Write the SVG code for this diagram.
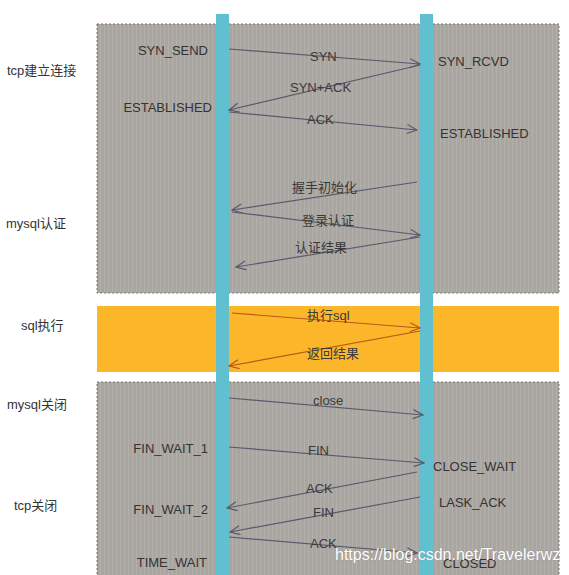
<svg xmlns="http://www.w3.org/2000/svg" width="569" height="575" viewBox="0 0 569 575">
<style>
.sec{font-family:"Liberation Sans",Arial,"Noto Sans CJK SC",sans-serif;font-size:13px;fill:#333}
.st{font-family:"Liberation Sans",Arial,sans-serif;font-size:13px;fill:#333}
.lb{font-family:"Liberation Sans",Arial,"Noto Sans CJK SC",sans-serif;font-size:13px;fill:#3a3a3a}
.gbox{fill:url(#stripe);stroke:#777;stroke-width:1;stroke-dasharray:2 2}
.life{fill:#60c0d0}
.ln{stroke:#585a6c;stroke-width:1.2;fill:none}
.lo{stroke:#b8581c;stroke-width:1.2;fill:none}
.wm{font-family:"Liberation Sans",Arial,sans-serif;font-size:16px;fill:#fff;stroke:#777;stroke-width:0.6;stroke-opacity:0.6;paint-order:stroke}
</style>
<defs>
<pattern id="stripe" width="4" height="4" patternUnits="userSpaceOnUse">
<rect width="4" height="4" fill="#a9a5a1"/>
<rect width="1" height="4" fill="#b3afab"/>
</pattern>
<marker id="ah" markerUnits="userSpaceOnUse" markerWidth="12" markerHeight="12" refX="11" refY="5" orient="auto">
<path d="M1,0.5 L11,5 L1,9.5" fill="none" stroke="#585a6c" stroke-width="1.2"/>
</marker>
<marker id="ao" markerUnits="userSpaceOnUse" markerWidth="12" markerHeight="12" refX="11" refY="5" orient="auto">
<path d="M1,0.5 L11,5 L1,9.5" fill="none" stroke="#b8581c" stroke-width="1.2"/>
</marker>
</defs>
<rect width="569" height="575" fill="#fff"/>
<g id="phase-tcp-connect">
<rect class="gbox" x="97" y="24" width="462" height="269"/>
</g>
<g id="phase-sql">
<rect x="97" y="306" width="462" height="66" fill="#fcb629"/>
</g>
<g id="phase-close">
<rect class="gbox" x="97" y="382" width="462" height="200"/>
</g>
<g id="client-lifeline"><rect class="life" x="216" y="14" width="13" height="570"/></g>
<g id="server-lifeline"><rect class="life" x="420" y="14" width="13" height="570"/></g>
<g id="section-labels">
<text class="sec" x="7" y="75">tcp建立连接</text>
<text class="sec" x="6" y="228">mysql认证</text>
<text class="sec" x="21" y="330">sql执行</text>
<text class="sec" x="7" y="409">mysql关闭</text>
<text class="sec" x="14" y="510">tcp关闭</text>
</g>
<g id="client-states" text-anchor="end">
<text class="st" x="208" y="55">SYN_SEND</text>
<text class="st" x="212" y="112">ESTABLISHED</text>
<text class="st" x="208" y="453">FIN_WAIT_1</text>
<text class="st" x="208" y="514">FIN_WAIT_2</text>
<text class="st" x="207" y="567">TIME_WAIT</text>
</g>
<g id="server-states">
<text class="st" x="438" y="66">SYN_RCVD</text>
<text class="st" x="440" y="138">ESTABLISHED</text>
<text class="st" x="433" y="471">CLOSE_WAIT</text>
<text class="st" x="439" y="507">LASK_ACK</text>
<text class="st" x="443" y="568">CLOSED</text>
</g>
<g id="connectors">
<line class="ln" x1="229" y1="49" x2="420" y2="64" marker-end="url(#ah)"/>
<line class="ln" x1="420" y1="65" x2="229" y2="110" marker-end="url(#ah)"/>
<line class="ln" x1="229" y1="112" x2="417" y2="130" marker-end="url(#ah)"/>
<line class="ln" x1="417" y1="182" x2="232" y2="210" marker-end="url(#ah)"/>
<line class="ln" x1="232" y1="212" x2="420" y2="235" marker-end="url(#ah)"/>
<line class="ln" x1="420" y1="237" x2="236" y2="267" marker-end="url(#ah)"/>
<line class="lo" x1="232" y1="313" x2="420" y2="328" marker-end="url(#ao)"/>
<line class="lo" x1="420" y1="331" x2="229" y2="366" marker-end="url(#ao)"/>
<line class="ln" x1="229" y1="398" x2="423" y2="415" marker-end="url(#ah)"/>
<line class="ln" x1="229" y1="447" x2="424" y2="463" marker-end="url(#ah)"/>
<line class="ln" x1="417" y1="472" x2="227" y2="508" marker-end="url(#ah)"/>
<line class="ln" x1="420" y1="497" x2="230" y2="532" marker-end="url(#ah)"/>
<line class="ln" x1="229" y1="537" x2="417" y2="553" marker-end="url(#ah)"/>
</g>
<g id="message-labels">
<text class="lb" x="310" y="61">SYN</text>
<text class="lb" x="290" y="92">SYN+ACK</text>
<text class="lb" x="307" y="124">ACK</text>
<text class="lb" x="292" y="192">握手初始化</text>
<text class="lb" x="302" y="225">登录认证</text>
<text class="lb" x="295" y="252">认证结果</text>
<text class="lb" x="307" y="320">执行sql</text>
<text class="lb" x="307" y="358">返回结果</text>
<text class="lb" x="313" y="405">close</text>
<text class="lb" x="308" y="455">FIN</text>
<text class="lb" x="306" y="493">ACK</text>
<text class="lb" x="313" y="517">FIN</text>
<text class="lb" x="310" y="548">ACK</text>
</g>
<g id="watermark">
<text class="wm" x="335" y="560">https://blog.csdn.net/Travelerwz</text>
</g>
</svg>
